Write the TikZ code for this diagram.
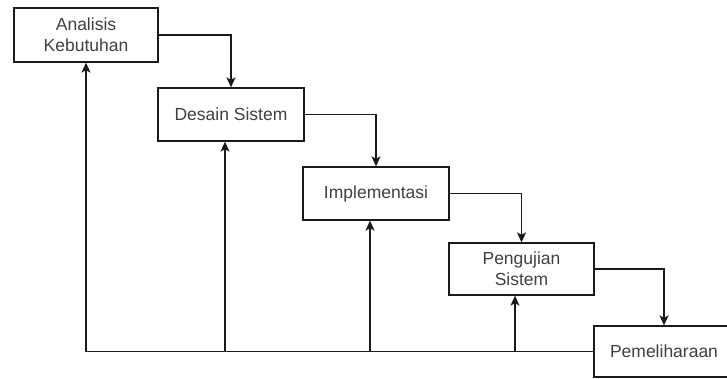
\documentclass[tikz,border=0pt]{standalone}
\usepackage{fontspec}
\setmainfont{Liberation Sans}
\usetikzlibrary{arrows.meta}
\definecolor{txt}{HTML}{404040}
\definecolor{ln}{HTML}{1A1A1A}
\begin{document}
\begin{tikzpicture}[x=1pt,y=-1pt,
  box/.style={draw=ln, line width=1.3pt, fill=white, rectangle, inner sep=0pt,
    text=txt, font=\fontsize{17.5}{21}\selectfont, align=center},
  arr/.style={draw=ln, line width=1.3pt, -{Stealth[length=10pt,width=9pt,inset=2.5pt]}},
  ln/.style={draw=ln, line width=1.3pt}]
\useasboundingbox (0,0) rectangle (727,379);
\node[box, minimum width=144pt, minimum height=54pt] (b1) at (86,35) {Analisis\\Kebutuhan};
\node[box, minimum width=146pt, minimum height=53pt] (b2) at (231,114.5) {Desain Sistem};
\node[box, minimum width=146pt, minimum height=53pt] (b3) at (376,193.5) {Implementasi};
\node[box, minimum width=145pt, minimum height=52pt] (b4) at (521.5,269) {Pengujian\\Sistem};
\node[box, minimum width=140pt, minimum height=51pt] (b5) at (664,351.5) {Pemeliharaan};
% forward flow
\draw[arr] (b1.east) -| (b2.north);
\draw[arr] (b2.east) -| (b3.north);
\draw[arr] (b3.east) -| (b4.north);
\draw[arr] (b4.east) -| (b5.north);
% feedback
\coordinate (j2) at (225,351.5);
\coordinate (j3) at (370,351.5);
\coordinate (j4) at (515,351.5);
\draw[arr] (b5.west) -| (b1.south);
\draw[arr] (j2) -- (j2 |- b2.south);
\draw[arr] (j3) -- (j3 |- b3.south);
\draw[arr] (j4) -- (j4 |- b4.south);
\end{tikzpicture}
\end{document}
